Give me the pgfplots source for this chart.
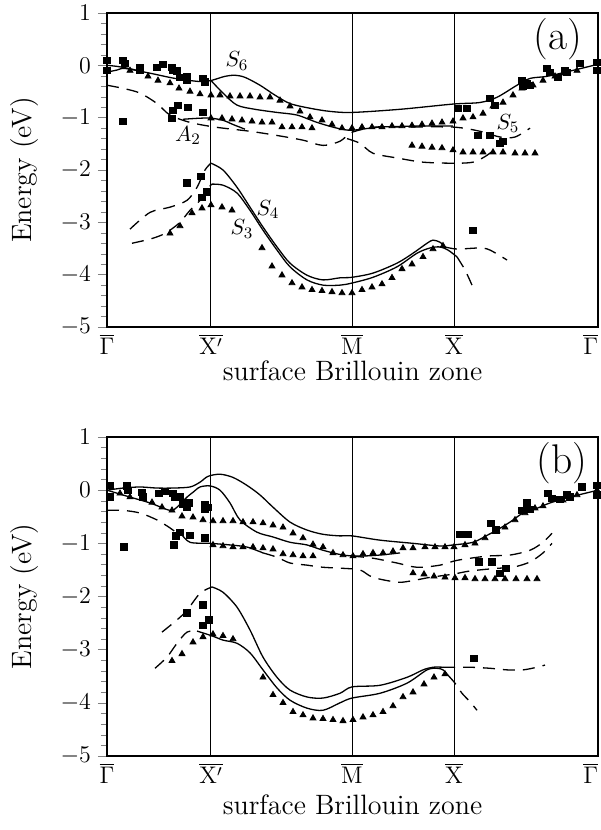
\documentclass[border=0pt]{standalone}
\usepackage{pgfplots}
\pgfplotsset{compat=1.18}
\begin{document}
\begin{tikzpicture}
\path[use as bounding box] (-53.5pt,-251.5pt) rectangle (246.5pt,163.5pt);
\pgfplotsset{
  bz/.style={
    scale only axis, width=245.5pt,
    xmin=0, xmax=491, ymin=-5, ymax=1,
    xtick={0,104,245,347,491},
    xticklabels={$\overline{\Gamma}$,$\overline{\mathrm{X}'}$,$\overline{\mathrm{M}}$,$\overline{\mathrm{X}}$,\llap{$\overline{\Gamma}$}},
    xmajorgrids, major grid style={black, line width=0.5pt},
    xtick style={draw=none},
    ytick={-5,-4,-3,-2,-1,0,1}, minor y tick num=4,
    ytick pos=left, tick align=outside,
    major tick length=4.5pt, minor tick length=3pt,
    axis line style={line width=0.6pt},
    tick label style={font=\fontsize{12}{14}\selectfont},
    xticklabel style={yshift=4.5pt},
    xlabel={surface Brillouin zone}, ylabel={Energy (eV)},
    every axis y label/.style={at={(axis description cs:0,0.5)}, xshift=-41pt, rotate=90, anchor=center, font=\fontsize{14}{16}\selectfont},
    clip=false,
  },
  sol/.style={black, line width=0.65pt, smooth, no marks},
  dsh/.style={black, line width=0.65pt, smooth, no marks, dash pattern=on 6pt off 4pt},
  sq/.style={black, only marks, mark=square*, mark size=1.6pt},
  tri/.style={black, only marks, mark=triangle*, mark size=1.7pt},
}
% ---------------- panel (a) ----------------
\begin{axis}[bz, height=157pt, at={(0pt,0pt)}, anchor=south west,
  every axis x label/.style={at={(axis description cs:0.5,0)}, yshift=-22pt, anchor=center, font=\fontsize{14}{16}\selectfont}]
\addplot[sol] coordinates {(0,-0.13)(10,-0.09)(18,-0.06)(43,-0.15)(68,-0.25)(93,-0.31)(104,-0.29)(118,-0.21)(128,-0.19)(138,-0.23)(153,-0.38)(168,-0.57)(183,-0.73)(203,-0.82)(223,-0.88)(245,-0.90)(293,-0.84)(346,-0.74)(373,-0.71)(390,-0.61)(410,-0.38)(423,-0.25)(440,-0.21)(463,-0.11)(491,0.02)};
\addplot[sol] coordinates {(0,0.0)(10,-0.02)(22,-0.06)(35,-0.12)};
\addplot[sol] coordinates {(104,-0.29)(116,-0.53)(130,-0.76)(148,-0.84)(170,-0.90)(190,-0.95)(210,-1.09)(230,-1.20)(245,-1.24)(273,-1.18)(313,-1.16)(346,-1.16)};
\addplot[sol] coordinates {(76,-1.03)(93,-1.01)(104,-1.01)(116,-1.05)(126,-1.13)(138,-1.22)};
\addplot[sol] coordinates {(104,-1.87)(116,-2.00)(130,-2.33)(143,-2.71)(156,-3.09)(170,-3.47)(183,-3.78)(200,-4.01)(216,-4.10)(233,-4.06)(245,-4.05)(266,-3.97)(290,-3.78)(306,-3.59)(320,-3.40)(326,-3.34)(333,-3.38)(338,-3.47)};
\addplot[sol] coordinates {(105,-2.27)(116,-2.29)(130,-2.44)(143,-2.77)(156,-3.15)(170,-3.53)(183,-3.85)(200,-4.10)(216,-4.20)(233,-4.20)(245,-4.16)(266,-4.05)(290,-3.85)(310,-3.59)(323,-3.49)(333,-3.47)(341,-3.53)(350,-3.66)};
\addplot[dsh] coordinates {(338,-3.47)(350,-3.51)(373,-3.49)(383,-3.53)(400,-3.72)};
\addplot[dsh] coordinates {(350,-3.66)(358,-3.91)(365,-4.20)};
\addplot[dsh] coordinates {(23,-3.13)(43,-2.81)(63,-2.71)(80,-2.58)(90,-2.33)(98,-2.00)(104,-1.87)};
\addplot[dsh] coordinates {(25,-3.40)(43,-3.32)(55,-3.24)(63,-3.15)(73,-3.00)(83,-2.77)(93,-2.58)(101,-2.35)(105,-2.27)};
\addplot[dsh] coordinates {(0,-0.38)(16,-0.44)(33,-0.53)(50,-0.73)(63,-0.95)(83,-1.09)(108,-1.18)(143,-1.26)(170,-1.34)(196,-1.43)(216,-1.53)(233,-1.45)(245,-1.28)(268,-1.18)(293,-1.18)(346,-1.18)(373,-1.26)(393,-1.37)(408,-1.37)(423,-1.20)};
\addplot[dsh] coordinates {(240,-1.40)(253,-1.49)(266,-1.68)(290,-1.77)(316,-1.85)(346,-1.87)(366,-1.85)(380,-1.72)(390,-1.56)};
\addplot[sq] coordinates {(0,0.10)(0,-0.10)(16,0.10)(18,0.04)(33,-0.04)(33,-0.10)(50,-0.04)(56,0.02)(65,-0.04)(66,-0.10)(70,-0.11)(73,-0.23)(80,-0.21)(80,-0.29)(96,-0.25)(98,-0.32)(16,-1.07)(66,-0.86)(71,-0.76)(81,-0.80)(96,-0.90)(65,-1.01)(80,-2.25)(94,-2.12)(95,-2.52)(100,-2.42)(351,-0.82)(360,-0.82)(383,-0.63)(388,-0.76)(371,-1.34)(383,-1.34)(393,-1.49)(396,-1.45)(415,-0.29)(416,-0.40)(420,-0.34)(423,-0.38)(440,-0.06)(443,-0.13)(451,-0.23)(458,-0.10)(460,-0.13)(473,0.04)(490,0.06)(490,-0.10)(366,-3.15)};
\addplot[tri] coordinates {(23,-0.10)(41,-0.21)(51,-0.29)(63,-0.34)(72,-0.44)(83,-0.50)(93,-0.55)(104,-0.57)(113,-0.57)(123,-0.59)(133,-0.59)(143,-0.59)(153,-0.61)(163,-0.61)(173,-0.67)(183,-0.78)(193,-0.88)(203,-0.99)(215,-1.05)(225,-1.13)(235,-1.20)(245,-1.20)(255,-1.18)(265,-1.18)(275,-1.18)(285,-1.16)(295,-1.16)(305,-1.15)(315,-1.13)(325,-1.11)(335,-1.09)(346,-1.07)(356,-1.01)(366,-0.99)(376,-0.92)(386,-0.78)(396,-0.71)(406,-0.57)(415,-0.44)(426,-0.38)(436,-0.29)(448,-0.21)(458,-0.15)(470,-0.10)
(104,-1.01)(115,-1.01)(125,-1.03)(135,-1.05)(145,-1.07)(155,-1.09)(165,-1.09)(175,-1.18)(185,-1.18)(195,-1.18)(205,-1.20)
(305,-1.53)(315,-1.55)(325,-1.57)(335,-1.58)(346,-1.62)(356,-1.66)(366,-1.66)(376,-1.66)(386,-1.66)(396,-1.66)(408,-1.68)(418,-1.68)(428,-1.68)
(63,-3.21)(73,-3.07)(85,-2.82)(95,-2.73)(104,-2.67)(115,-2.71)(125,-2.77)(155,-3.49)(165,-3.84)(175,-4.01)(185,-4.16)(195,-4.24)(205,-4.29)(215,-4.31)(225,-4.33)(235,-4.35)(245,-4.35)(255,-4.29)(265,-4.24)(275,-4.18)(285,-4.06)(295,-3.89)(305,-3.80)(316,-3.66)(326,-3.51)(336,-3.45)};
\node[font=\huge] at (axis cs:451,0.5) {(a)};
\node[font=\fontsize{11}{13}\selectfont] at (axis cs:130,0.08) {$S_6$};
\node[font=\fontsize{11}{13}\selectfont] at (axis cs:81,-1.34) {$A_2$};
\node[font=\fontsize{11}{13}\selectfont] at (axis cs:161,-2.75) {$S_4$};
\node[font=\fontsize{11}{13}\selectfont] at (axis cs:135,-3.13) {$S_3$};
\node[font=\fontsize{11}{13}\selectfont] at (axis cs:401,-1.11) {$S_5$};
\end{axis}
% ---------------- panel (b) ----------------
\begin{axis}[bz, height=159.5pt, at={(0pt,-214.5pt)}, anchor=south west,
  every axis x label/.style={at={(axis description cs:0.5,0)}, yshift=-24.5pt, anchor=center, font=\fontsize{14}{16}\selectfont}]
\addplot[sol] coordinates {(0,0)(16,0.04)(33,0.06)(50,0.04)(66,0.04)(83,0.06)(93,0.15)(101,0.26)(113,0.30)(126,0.24)(140,0.09)(153,-0.09)(166,-0.32)(183,-0.60)(200,-0.75)(216,-0.83)(233,-0.86)(245,-0.86)(273,-0.94)(306,-1.00)(333,-1.05)(346,-1.03)(366,-0.98)(380,-0.85)(390,-0.75)(403,-0.60)(416,-0.43)(430,-0.34)(443,-0.24)(463,-0.13)(491,0)};
\addplot[sol] coordinates {(0,0)(23,-0.13)(43,-0.24)(63,-0.38)(70,-0.32)(80,-0.13)(86,-0.04)(93,0.06)(103,0.08)(113,0)(123,-0.24)(133,-0.56)(150,-0.79)(166,-0.88)(183,-0.98)(200,-1.03)(216,-1.13)(236,-1.22)(253,-1.24)(273,-1.22)(293,-1.18)};
\addplot[sol] coordinates {(69,-0.85)(73,-0.81)(83,-0.98)(103,-1.00)(123,-1.03)(140,-1.07)(156,-1.18)};
\addplot[dsh] coordinates {(0,-0.38)(16,-0.38)(33,-0.43)(50,-0.56)(63,-0.71)(70,-0.81)};
\addplot[dsh] coordinates {(156,-1.18)(170,-1.26)(183,-1.37)(200,-1.41)(216,-1.45)(236,-1.47)(253,-1.50)(266,-1.64)(290,-1.73)(303,-1.71)(323,-1.64)(346,-1.58)(363,-1.52)(390,-1.47)(406,-1.45)(423,-1.35)(436,-1.18)(445,-1.00)};
\addplot[dsh] coordinates {(245,-1.24)(266,-1.28)(290,-1.37)(310,-1.45)(333,-1.41)(350,-1.32)(380,-1.24)(403,-1.22)(423,-1.13)(436,-0.98)(445,-0.81)};
\addplot[sol] coordinates {(105,-1.82)(116,-1.92)(130,-2.20)(143,-2.63)(156,-3.14)(170,-3.52)(183,-3.76)(200,-3.89)(216,-3.91)(233,-3.82)(245,-3.70)(273,-3.67)(300,-3.52)(316,-3.38)(326,-3.33)(336,-3.33)};
\addplot[dsh] coordinates {(336,-3.33)(346,-3.33)(363,-3.33)(383,-3.35)(400,-3.38)(416,-3.38)(430,-3.33)(438,-3.29)};
\addplot[dsh] coordinates {(55,-2.67)(70,-2.44)(80,-2.26)(93,-1.94)(105,-1.82)};
\addplot[sol] coordinates {(90,-2.65)(105,-2.74)(116,-2.82)(130,-2.88)(143,-3.06)(156,-3.38)(170,-3.72)(183,-3.95)(200,-4.10)(216,-4.14)(233,-4.00)(245,-3.91)(273,-3.82)(300,-3.63)(320,-3.38)(330,-3.35)(336,-3.38)(341,-3.48)};
\addplot[dsh] coordinates {(341,-3.48)(348,-3.63)(355,-3.82)(363,-3.98)(370,-4.14)};
\addplot[dsh] coordinates {(48,-3.35)(60,-3.14)(70,-2.88)(80,-2.67)(90,-2.65)};
\addplot[sq] coordinates {(3,0.09)(3,-0.13)(20,0.08)(21,0)(35,-0.04)(36,-0.13)(52,-0.06)(58,-0.02)(66,-0.06)(68,-0.13)(73,-0.13)(76,-0.26)(82,-0.24)(80,-0.32)(98,-0.28)(98,-0.36)(101,-0.32)(17,-1.07)(67,-1.03)(69,-0.86)(73,-0.79)(83,-0.85)(98,-0.90)(80,-2.31)(96,-2.16)(96,-2.54)(102,-2.44)(353,-0.83)(361,-0.83)(384,-0.62)(389,-0.75)(372,-1.35)(385,-1.35)(393,-1.56)(399,-1.47)(415,-0.38)(420,-0.24)(423,-0.36)(441,-0.06)(445,-0.15)(453,-0.17)(460,-0.09)(463,-0.13)(475,0.06)(490,0.09)(490,-0.09)(367,-3.16)};
\addplot[tri] coordinates {(13,-0.06)(23,-0.13)(45,-0.23)(55,-0.32)(65,-0.38)(75,-0.49)(86,-0.51)(96,-0.56)(106,-0.58)(116,-0.58)(126,-0.58)(136,-0.60)(146,-0.60)(156,-0.62)(166,-0.66)(176,-0.70)(186,-0.81)(196,-0.90)(206,-1.02)(216,-1.07)(226,-1.18)(236,-1.22)(246,-1.24)(256,-1.20)(266,-1.18)(276,-1.18)(286,-1.15)(296,-1.09)(306,-1.09)(318,-1.07)(328,-1.07)(338,-1.07)(347,-1.07)(358,-1.03)(368,-1.00)(378,-0.90)(390,-0.77)(398,-0.70)(408,-0.56)(418,-0.43)(428,-0.34)(436,-0.30)(456,-0.19)(470,-0.09)(490,0)
(106,-1.03)(116,-1.05)(126,-1.07)(136,-1.07)(146,-1.07)(156,-1.09)(166,-1.11)(176,-1.20)(186,-1.22)(196,-1.24)(206,-1.24)
(306,-1.56)(317,-1.58)(327,-1.62)(338,-1.64)(348,-1.65)(358,-1.65)(368,-1.67)(378,-1.67)(388,-1.67)(398,-1.67)(409,-1.67)(420,-1.67)(430,-1.67)
(65,-3.21)(75,-3.08)(86,-2.86)(96,-2.76)(106,-2.71)(116,-2.74)(126,-2.80)(156,-3.52)(166,-3.85)(176,-4.00)(186,-4.17)(196,-4.23)(206,-4.29)(216,-4.30)(226,-4.32)(236,-4.34)(246,-4.32)(256,-4.27)(266,-4.23)(276,-4.17)(286,-4.06)(296,-3.89)(306,-3.80)(317,-3.65)(327,-3.52)(338,-3.46)};
\node[font=\huge] at (axis cs:455,0.5) {(b)};
\end{axis}
\end{tikzpicture}
\end{document}
